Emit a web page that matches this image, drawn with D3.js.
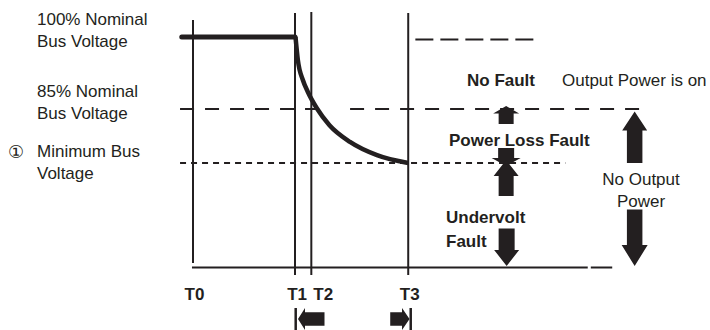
<!DOCTYPE html>
<html>
<head>
<meta charset="utf-8">
<script src="https://cdn.jsdelivr.net/npm/d3@7/dist/d3.min.js"></script>
<style>
  body { margin: 0; background: #fff; }
  svg { display: block; }
  text { font-family: "Liberation Sans", Arial, sans-serif; fill: #231f20; }
</style>
</head>
<body>
<svg id="chart" width="710" height="330"></svg>
<script>
// time markers (arbitrary units, T0 = 0)
var timeNames = ["T0", "T1", "T2", "T3"];
var timeValues = [0, 100, 116, 211];

// bus voltage levels in % of nominal
var levelValues = [100, 85, 74];
var levelLabels = [["100% Nominal", "Bus Voltage"],
                   ["85% Nominal", "Bus Voltage"],
                   ["Minimum Bus", "Voltage"]];

// bus voltage: flat until T1, then decaying down to the minimum at T3
var flatT = [-11, 100];
var flatV = [100, 100];
var decayT = [100.5, 102.8, 107.8, 112.5, 121.4, 133.8, 153.9, 180.4, 211];
var decayV = [100, 95.2, 91.0, 88.6, 85.15, 81.7, 78.3, 75.6, 74];

// extents of the reference lines (time units)
var line85T = [[-12.7, 131.5], [154, 443]];
var lineMinT = [-12.7, 365];
var nominalMarkT = [218, 335];
var nominalMarkV = 99.5;
var baseT = [[-1, 387], [390, 411]];

var ink = "#231f20";
var svg = d3.select("#chart");

var x = d3.scaleLinear().domain([0, 100]).range([193, 295]);
// schematic voltage axis, not to scale
var y = d3.scaleLinear().domain([0, 74, 85, 100]).range([267.5, 163, 109, 37]);

function hline(t0, t1, v, w, dash) {
  svg.append("line")
    .attr("x1", x(t0)).attr("x2", x(t1))
    .attr("y1", y(v)).attr("y2", y(v))
    .attr("stroke", ink).attr("stroke-width", w)
    .attr("stroke-dasharray", dash || null);
}

// reference levels
line85T.forEach(function (s) { hline(s[0], s[1], levelValues[1], 2, "14,11"); });
hline(lineMinT[0], lineMinT[1], levelValues[2], 2.2, "6,5");
hline(nominalMarkT[0], nominalMarkT[1], nominalMarkV, 2, "18,7");
baseT.forEach(function (s) { hline(s[0], s[1], 0, 2); });

// time marker lines
svg.selectAll("line.tm")
  .data(timeValues)
  .enter().append("line")
  .attr("class", "tm")
  .attr("x1", d => x(d)).attr("x2", d => x(d))
  .attr("y1", (d, i) => i === 0 ? 20 : (i === 2 ? 12 : 13))
  .attr("y2", (d, i) => i === 0 ? 263 : 275)
  .attr("stroke", ink).attr("stroke-width", 2);

// bus voltage trace
svg.append("path")
  .datum(flatT.map((t, i) => [t, flatV[i]]))
  .attr("d", d3.line().x(d => x(d[0])).y(d => y(d[1])))
  .attr("fill", "none").attr("stroke", ink).attr("stroke-width", 5)
  .attr("stroke-linecap", "round");

svg.append("path")
  .datum(decayT.map((t, i) => [t, decayV[i]]))
  .attr("d", d3.line().x(d => x(d[0])).y(d => y(d[1])).curve(d3.curveMonotoneX))
  .attr("fill", "none").attr("stroke", ink).attr("stroke-width", 4.5);

// level labels on the left
var lblTop = [25, 97, 157];
levelLabels.forEach(function (lines, i) {
  var t = svg.append("text").attr("x", 37).attr("y", lblTop[i]).style("font-size", "17px");
  lines.forEach(function (s, j) {
    t.append("tspan").attr("x", 37).attr("dy", j === 0 ? 0 : 21.5).text(s);
  });
});
svg.append("text").attr("x", 16).attr("y", 158).attr("text-anchor", "middle")
  .style("font-family", "'DejaVu Sans','Noto Sans CJK JP',sans-serif")
  .style("font-size", "18px").text("\u2460");

// time labels
timeNames.forEach(function (n, i) {
  var px = x(timeValues[i]);
  var anchor = "middle", tx = px + 1.5;
  if (n === "T1") { anchor = "end"; tx = px + 12; }
  if (n === "T2") { anchor = "start"; tx = px + 2; }
  svg.append("text").attr("x", tx).attr("y", 300).attr("text-anchor", anchor)
    .style("font-size", "17px").style("font-weight", "bold").text(n);
});

// block arrow, vertical (tip at y0, tail at y1)
function vArrow(cx, y0, y1, bw, hw, hl) {
  var s = y1 > y0 ? 1 : -1;
  var p = d3.path();
  p.moveTo(cx, y0);
  p.lineTo(cx + hw / 2, y0 + s * hl);
  p.lineTo(cx + bw / 2, y0 + s * hl);
  p.lineTo(cx + bw / 2, y1);
  p.lineTo(cx - bw / 2, y1);
  p.lineTo(cx - bw / 2, y0 + s * hl);
  p.lineTo(cx - hw / 2, y0 + s * hl);
  p.closePath();
  svg.append("path").attr("d", p.toString()).attr("fill", ink);
}
// block arrow, horizontal (tip at x0, tail at x1)
function hArrow(cy, x0, x1, bh, hh, hl) {
  var s = x1 > x0 ? 1 : -1;
  var p = d3.path();
  p.moveTo(x0, cy);
  p.lineTo(x0 + s * hl, cy - hh / 2);
  p.lineTo(x0 + s * hl, cy - bh / 2);
  p.lineTo(x1, cy - bh / 2);
  p.lineTo(x1, cy + bh / 2);
  p.lineTo(x0 + s * hl, cy + bh / 2);
  p.lineTo(x0 + s * hl, cy + hh / 2);
  p.closePath();
  svg.append("path").attr("d", p.toString()).attr("fill", ink);
}

var faultX = x(307), outX = x(433);
var y85 = y(levelValues[1]), yMin = y(levelValues[2]), y0 = y(0);
vArrow(faultX, y85 - 3, y85 + 15, 15, 26, 7.5);
vArrow(faultX, yMin + 3, yMin - 15, 16, 29, 8);
vArrow(faultX, yMin - 3, yMin + 33, 15, 25, 16);
vArrow(faultX + 0.5, y0 - 1.5, y0 - 39, 16, 25, 16);
vArrow(outX, y85 + 2.5, yMin, 15.5, 25, 19);
vArrow(outX, y0 - 1.5, y0 - 58, 15.5, 26, 21);

// interval arrows below the time labels
var aY = 319;
hArrow(aY, x(timeValues[1]) + 3, x(timeValues[1]) + 29.5, 13.5, 22, 7);
svg.append("line").attr("x1", x(timeValues[1]) + 0.7).attr("x2", x(timeValues[1]) + 0.7)
  .attr("y1", 308).attr("y2", 330).attr("stroke", ink).attr("stroke-width", 2.5);
hArrow(aY, x(timeValues[3]) + 1.3, x(timeValues[3]) - 18, 13.5, 22, 7.5);
svg.append("line").attr("x1", x(timeValues[3]) + 2.5).attr("x2", x(timeValues[3]) + 2.5)
  .attr("y1", 308).attr("y2", 330).attr("stroke", ink).attr("stroke-width", 2.5);

// region annotations
function label(tx, ty, lines, bold, anchor, lh) {
  var t = svg.append("text").attr("x", tx).attr("y", ty)
    .attr("text-anchor", anchor || "start")
    .style("font-size", "17px").style("font-weight", bold ? "bold" : "normal");
  lines.forEach(function (s, j) {
    t.append("tspan").attr("x", tx).attr("dy", j === 0 ? 0 : (lh || 23.5)).text(s);
  });
}
label(467, 86, ["No Fault"], true);
label(562, 86, ["Output Power is on"], false);
label(449, 146, ["Power Loss Fault"], true);
label(446, 223, ["Undervolt", "Fault"], true);
label(641, 185, ["No Output", "Power"], false, "middle", 21.5);
</script>
</body>
</html>
